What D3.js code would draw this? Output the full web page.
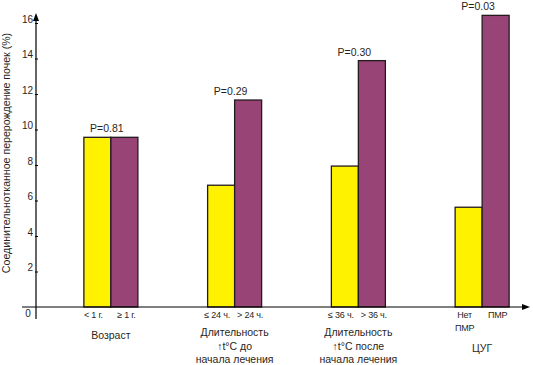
<!DOCTYPE html>
<html><head><meta charset="utf-8">
<script src="https://cdn.jsdelivr.net/npm/d3@7"></script>
<style>
body{margin:0;background:#fff;}
svg{display:block;}
text{font-family:"Liberation Sans",Arial,sans-serif;fill:#2a1f22;}
</style></head>
<body>
<svg id="c" width="533" height="365"></svg>
<script>
const groups = ["Возраст","Длительность t до","Длительность t после","ЦУГ"];
const seriesA = [9.56, 6.86, 7.94, 5.62];   // yellow
const seriesB = [9.56, 11.66, 13.88, 16.43]; // purple
const pLabels = ["P=0.81","P=0.29","P=0.30","P=0.03"];
const labelsA = [["< 1 г."],["≤ 24 ч."],["≤ 36 ч."],["Нет","ПМР"]];
const labelsB = [["≥ 1 г."],["> 24 ч."],["> 36 ч."],["ПМР"]];
const groupTitles = [["Возраст"],["Длительность","↑t°C до","начала лечения"],["Длительность","↑t°C после","начала лечения"],["ЦУГ"]];
const yTicks = [0,2,4,6,8,10,12,14,16];
const yTitle = "Соединительнотканное перерождение почек (%)";

const svg = d3.select("#c");
const y = d3.scaleLinear().domain([0,16]).range([307,23]);
const x = d3.scaleBand().domain(groups).range([49,544]);
const xs = d3.scaleBand().domain(["A","B"]).range([0,54]);
const bw = xs.bandwidth();
const cx = g => x(g) + x.bandwidth()/2;

// bars
const stroke = "#231a1e";
groups.forEach((g,i)=>{
  const left = cx(g) - 27;
  [["A",seriesA[i],"#fff200"],["B",seriesB[i],"#984476"]].forEach(([k,v,col])=>{
    svg.append("rect").attr("x",left+xs(k)).attr("y",y(v)).attr("width",bw).attr("height",y(0)-y(v))
      .attr("fill",col).attr("stroke",stroke).attr("stroke-width",1.3);
  });
});

// axes
const ax = svg.append("g").attr("transform","translate(36,0)");
ax.call(d3.axisLeft(y).tickValues(yTicks).tickSize(0).tickFormat(d=>d===0?"":d));
ax.select(".domain").remove();
ax.selectAll(".tick text").attr("x",-3).attr("dy","-0.1em").attr("font-size",10).style("fill","#2a1f2a");
ax.selectAll(".tick").filter(d=>d>0).append("line").attr("x1",-1).attr("x2",2).attr("stroke","#000");
svg.append("text").attr("x",28).attr("y",y(0)+10).attr("text-anchor","middle").attr("font-size",10).text("0");
svg.append("line").attr("x1",36).attr("x2",36).attr("y1",18).attr("y2",319).attr("stroke","#000").attr("stroke-width",1.2);
svg.append("line").attr("x1",22).attr("x2",525).attr("y1",y(0)).attr("y2",y(0)).attr("stroke","#000").attr("stroke-width",1.2);
svg.append("path").attr("d",`M36,13 L33,21 L39,21 Z`).attr("fill","#000");
svg.append("path").attr("d",`M530,${y(0)} L522,${y(0)-3} L522,${y(0)+3} Z`).attr("fill","#000");

// y title
svg.append("text").attr("transform","translate(10,153) rotate(-90)").attr("text-anchor","middle")
  .attr("font-size",10.6).text(yTitle);

// P labels
groups.forEach((g,i)=>{
  svg.append("text").attr("x",cx(g)-4).attr("y",y(Math.max(seriesA[i],seriesB[i]))-5)
    .attr("text-anchor","middle").attr("font-size",10.5).text(pLabels[i]);
});

// category labels
groups.forEach((g,i)=>{
  const left = cx(g)-27;
  labelsA[i].forEach((t,j)=>svg.append("text").attr("x",left+xs("A")+bw/2-4).attr("y",318+j*13)
    .attr("text-anchor","middle").attr("font-size",9).attr("letter-spacing",-0.2).text(t));
  labelsB[i].forEach((t,j)=>svg.append("text").attr("x",left+xs("B")+bw/2+2).attr("y",318+j*13)
    .attr("text-anchor","middle").attr("font-size",9).attr("letter-spacing",-0.2).text(t));
  const startY = i===0 ? 339 : (i===3 ? 352 : 336);
  groupTitles[i].forEach((t,j)=>svg.append("text").attr("x",cx(g)).attr("y",startY+j*13.5)
    .attr("text-anchor","middle").attr("font-size",10.5).text(t));
});
</script>
</body></html>
